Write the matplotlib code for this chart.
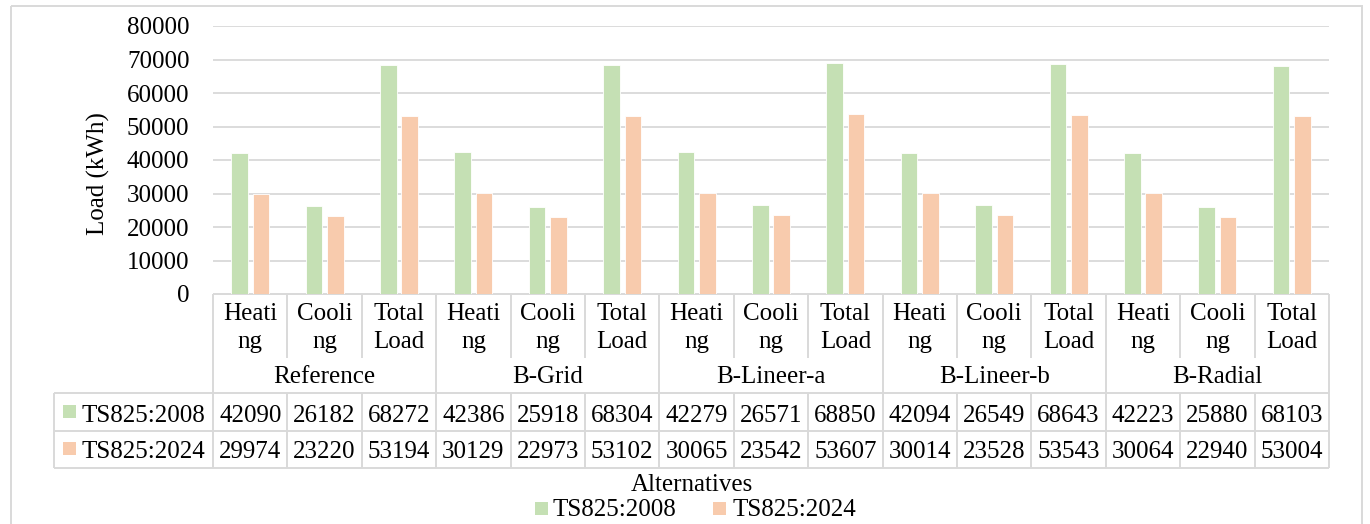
import matplotlib
matplotlib.use("Agg")
import matplotlib.pyplot as plt
from matplotlib.patches import Rectangle

# ---- data -------------------------------------------------------------
groups = ["Reference", "B-Grid", "B-Lineer-a", "B-Lineer-b", "B-Radial"]
load_labels = [("Heati", "ng"), ("Cooli", "ng"), ("Total", "Load")]
series_names = ["TS825:2008", "TS825:2024"]
ts2008 = [42090, 26182, 68272, 42386, 25918, 68304, 42279, 26571, 68850,
          42094, 26549, 68643, 42223, 25880, 68103]
ts2024 = [29974, 23220, 53194, 30129, 22973, 53102, 30065, 23542, 53607,
          30014, 23528, 53543, 30064, 22940, 53004]
y_ticks = [0, 10000, 20000, 30000, 40000, 50000, 60000, 70000, 80000]

# ---- style ------------------------------------------------------------
W, H = 1370, 524
GREEN = "#C5E0B4"
ORANGE = "#F8CBAD"
GRID = "#D9D9D9"
FONT = "Liberation Serif"
FS = 18
plt.rcParams["font.family"] = FONT

fig = plt.figure(figsize=(W / 100, H / 100), dpi=100)

# overlay in pixel coordinates (origin top-left) for the data table
ov = fig.add_axes([0, 0, 1, 1])
ov.set_xlim(0, W)
ov.set_ylim(H, 0)
ov.axis("off")

# plot area
left, right, top, bottom = 213, 1329, 26, 294
ax = fig.add_axes([left / W, 1 - bottom / H, (right - left) / W, (bottom - top) / H])
ax.set_facecolor("none")

n = len(ts2008)
idx = list(range(n))
bw = 0.224
off = 0.143
ax.bar([i - off for i in idx], ts2008, width=bw, color=GREEN,
       edgecolor="white", linewidth=0.6, zorder=3)
ax.bar([i + off for i in idx], ts2024, width=bw, color=ORANGE,
       edgecolor="white", linewidth=0.6, zorder=3)
ax.set_xlim(-0.5, n - 0.5)
ax.set_ylim(0, 80000)
ax.set_yticks(y_ticks)
ax.set_yticklabels([str(v) for v in y_ticks], fontsize=FS)
ax.tick_params(axis="y", length=0, pad=17)
ax.set_xticks([])
for s in ax.spines.values():
    s.set_visible(False)
for v in y_ticks[1:]:
    ax.axhline(v, color=GRID, lw=1.3, zorder=1)

ax.set_ylabel("Load (kWh)", fontsize=FS, labelpad=0, va="center")
ax.yaxis.set_label_coords(-(left - 98) / (right - left), (bottom - 174) / (bottom - top),
                          transform=ax.transAxes)


def xpix(v):
    return ax.transData.transform((v, 0))[0]


def hline(x0, x1, y):
    ov.plot([x0, x1], [y, y], color=GRID, lw=1.4, solid_capstyle="butt")


def vline(x, y0, y1):
    ov.plot([x, x], [y0, y1], color=GRID, lw=1.4, solid_capstyle="butt")


# ---- data table -------------------------------------------------------
tab_left = 54
row_cat_bottom = 358
row_grp = 393
row1 = 431
row2 = 468
x_start = xpix(-0.5)
x_end = xpix(n - 0.5)

hline(x_start, x_end, bottom)
hline(tab_left, x_end, row_grp)
hline(tab_left, x_end, row1)
hline(tab_left, x_end, row2)
vline(tab_left, row_grp, row2)

for i in range(n + 1):
    xb = xpix(i - 0.5)
    if i % 3 == 0:
        vline(xb, bottom, row2)
    else:
        vline(xb, bottom, row_cat_bottom)
        vline(xb, row_grp, row2)

for i in range(n):
    xc = xpix(i)
    l1, l2 = load_labels[i % 3]
    ov.text(xc, 320, l1, fontsize=FS, ha="center", va="baseline")
    ov.text(xc, 348, l2, fontsize=FS, ha="center", va="baseline")
    ov.text(xc, 421.5, str(ts2008[i]), fontsize=FS, ha="center", va="baseline")
    ov.text(xc, 458.5, str(ts2024[i]), fontsize=FS, ha="center", va="baseline")

for g, name in enumerate(groups):
    xc = xpix(3 * g + 1)
    ov.text(xc, 383, name, fontsize=FS, ha="center", va="baseline")

for k, (name, col) in enumerate(zip(series_names, [GREEN, ORANGE])):
    yb = [421.5, 458.5][k]
    ov.add_patch(Rectangle((63, yb - 16.5), 13, 13, color=col, lw=0))
    ov.text(82, yb, name, fontsize=FS, ha="left", va="baseline")

# axis title and legend
ov.text((tab_left + x_end) / 2, 491, "Alternatives", fontsize=FS,
        ha="center", va="baseline")
legend_x = [(535, 553), (713, 733)]
for (sx, tx), name, col in zip(legend_x, series_names, [GREEN, ORANGE]):
    ov.add_patch(Rectangle((sx, 502), 13, 13, color=col, lw=0))
    ov.text(tx, 516, name, fontsize=FS, ha="left", va="baseline")

# chart border
ov.add_patch(Rectangle((11, 6), 1362 - 11, 530, fill=False, edgecolor=GRID,
                       lw=1.4))

fig.savefig("out.png", dpi=100)
